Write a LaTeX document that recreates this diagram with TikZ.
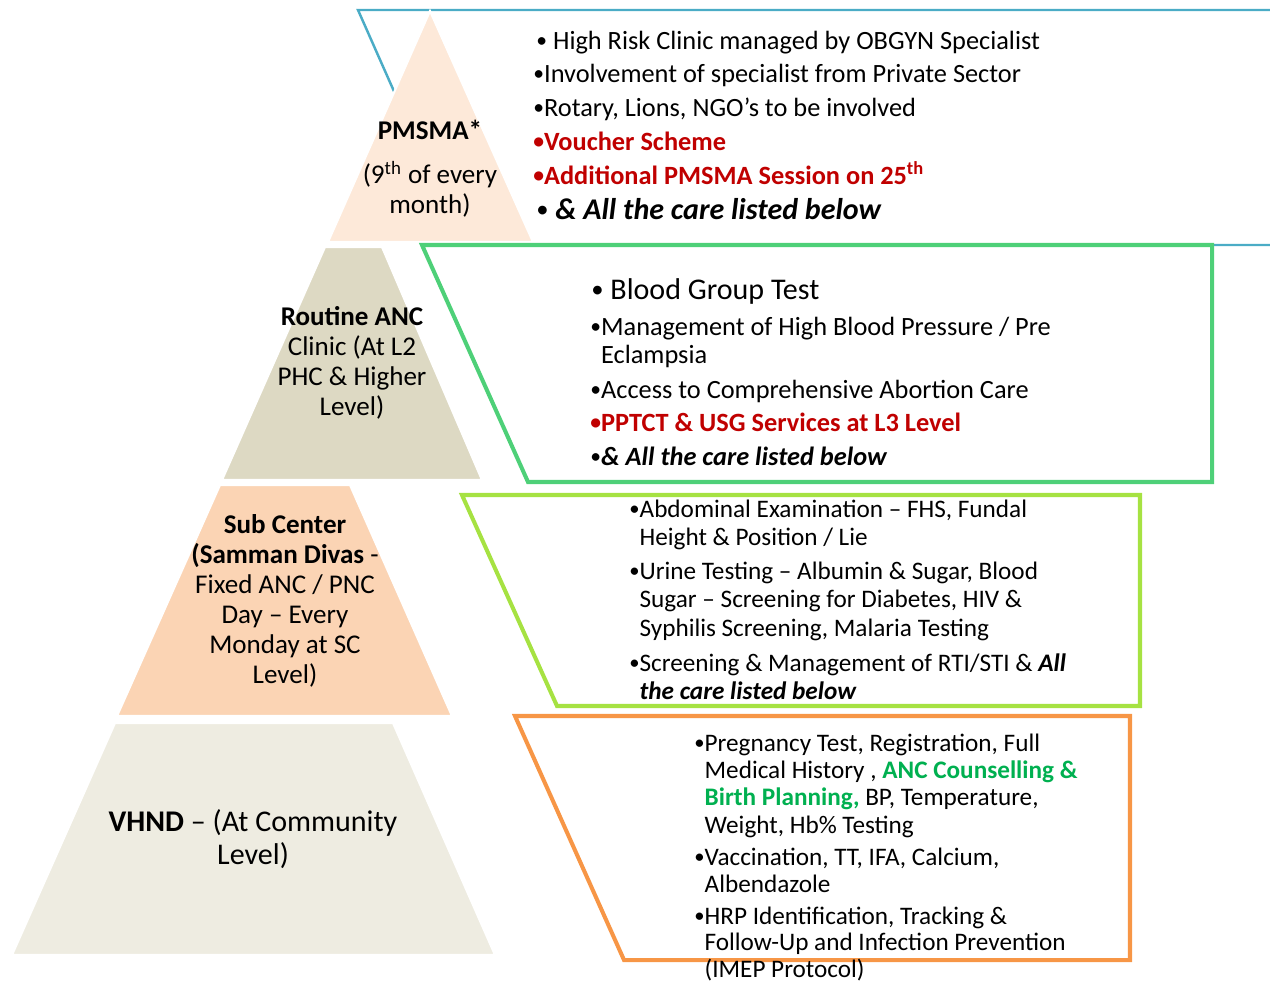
\documentclass[tikz,border=0pt]{standalone}
\usepackage{fontspec}
\setmainfont{Carlito}
\usetikzlibrary{positioning}

\definecolor{topline}{RGB}{75,172,198}
\definecolor{clinicline}{RGB}{78,208,120}
\definecolor{subline}{RGB}{166,226,66}
\definecolor{vhndline}{RGB}{247,150,70}
\definecolor{topfill}{RGB}{253,233,217}
\definecolor{clinicfill}{RGB}{221,217,195}
\definecolor{subfill}{RGB}{251,212,180}
\definecolor{vhndfill}{RGB}{238,236,225}
\definecolor{alertred}{RGB}{192,0,0}
\definecolor{plangreen}{RGB}{0,176,80}

\newcommand{\dotmark}{\raisebox{0.05em}{\scalebox{0.82}{\textbullet}}}
\newcommand{\bulitem}[1]{\begin{tabular}[t]{@{}l@{}l@{}}\dotmark&#1\end{tabular}}

\begin{document}
\begin{tikzpicture}[
    x=0.02cm, y=-0.02cm,
    line join=miter,
    frame/.style = {
      line width = 2.3pt,
      fill = white
    },
    tier/.style = {
      draw = white,
      line width = 1.2pt
    },
    level/.style = {
      align = center,
      inner sep = 0pt,
      font = \fontsize{15.4}{17}\selectfont
    },
    point/.style = {
      anchor = base west,
      inner sep = 0pt,
      font = \fontsize{15}{16.4}\selectfont
    },
    small point/.style = {
      point,
      font = \fontsize{14.35}{16.4}\selectfont
    },
    big point/.style = {
      point,
      font = \fontsize{17.1}{19}\selectfont
    }
  ]
  \useasboundingbox (0,0) rectangle (1270,985);

  % PMSMA tier
  \draw[line width=1.4pt, draw=topline] (1275,245) -- (462,245) -- (358,10) -- (1275,10);
  \path[tier, fill=topfill] (430,11) -- (533,242) -- (328,242) -- cycle;
  \node[level] (pmsma) at (430,169) {\textbf{PMSMA*}\\[8pt](9\textsuperscript{th} of every\\month)};

  \node[point] (hrc) at (536,49) {\dotmark\ High Risk Clinic managed by OBGYN Specialist};
  \node[point] (inv) at (533,82) {\dotmark Involvement of specialist from Private Sector};
  \node[point] (rot) at (533,116) {\dotmark Rotary, Lions, NGO’s to be involved};
  \node[point, text=alertred] (vou) at (533,150) {\bfseries\dotmark Voucher Scheme};
  \node[point, text=alertred] (add) at (533,184) {\bfseries\dotmark Additional PMSMA Session on 25\textsuperscript{th}};
  \node[big point] (all1) at (536,219) {\dotmark\ \textbf{\textit{\& All the care listed below}}};

  % routine ANC tier
  \draw[frame, draw=clinicline] (422,245) -- (1212,245) -- (1212,482) -- (528,482) -- cycle;
  \path[tier, fill=clinicfill] (325,247) -- (382,247) -- (482,480) -- (222,480) -- cycle;
  \node[level] (anc) at (352,363) {\textbf{Routine ANC}\\Clinic (At L2\\PHC \& Higher\\Level)};

  \node[big point] (bgt) at (591,299) {\dotmark\ Blood Group Test};
  \node[point] (hbp) at (590,335) {\bulitem{Management of High Blood Pressure / Pre\\&Eclampsia}};
  \node[point] (cac) at (590,398) {\dotmark Access to Comprehensive Abortion Care};
  \node[point, text=alertred] (usg) at (590,431) {\bfseries\dotmark PPTCT \& USG Services at L3 Level};
  \node[point] (all2) at (590,465) {\dotmark\textbf{\textit{\& All the care listed below}}};

  % sub center tier
  \draw[frame, draw=subline] (462,495) -- (1140,495) -- (1140,706) -- (557,706) -- cycle;
  \path[tier, fill=subfill] (220,485) -- (350,485) -- (452,716) -- (117,716) -- cycle;
  \node[level] (sc) at (285,601) {\textbf{Sub Center}\\\textbf{(Samman Divas} -\\Fixed ANC / PNC\\Day – Every\\Monday at SC\\Level)};

  \node[small point] (abd) at (629,517) {\bulitem{Abdominal Examination – FHS, Fundal\\&Height \& Position / Lie}};
  \node[small point] (uri) at (629,579) {\bulitem{Urine Testing – Albumin \& Sugar, Blood\\&Sugar – Screening for Diabetes, HIV \&\\&Syphilis Screening, Malaria Testing}};
  \node[small point] (rti) at (629,671) {\bulitem{Screening \& Management of RTI/STI \& \textbf{\textit{All}}\\&\textbf{\textit{the care listed below}}}};

  % VHND tier
  \draw[frame, draw=vhndline] (515,716) -- (1130,716) -- (1130,960) -- (624,960) -- cycle;
  \path[tier, fill=vhndfill] (115,723) -- (393,723) -- (495,955) -- (12,955) -- cycle;
  \node[level, font=\fontsize{17.1}{18.7}\selectfont] (vhnd) at (253,839) {\textbf{VHND} – (At Community\\Level)};

  \node[small point, font=\fontsize{14.35}{15.6}\selectfont] (reg) at (694,751) {\bulitem{Pregnancy Test, Registration, Full\\&Medical History , \textcolor{plangreen}{\textbf{ANC Counselling \&}}\\&\textcolor{plangreen}{\textbf{Birth Planning,}} BP, Temperature,\\&Weight, Hb\% Testing}};
  \node[small point, font=\fontsize{14.35}{15.6}\selectfont] (vac) at (694,865) {\bulitem{Vaccination, TT, IFA, Calcium,\\&Albendazole}};
  \node[small point, font=\fontsize{14.35}{15.3}\selectfont] (hrp) at (694,924) {\bulitem{HRP Identification, Tracking \&\\&Follow-Up and Infection Prevention\\&(IMEP Protocol)}};
\end{tikzpicture}
\end{document}
